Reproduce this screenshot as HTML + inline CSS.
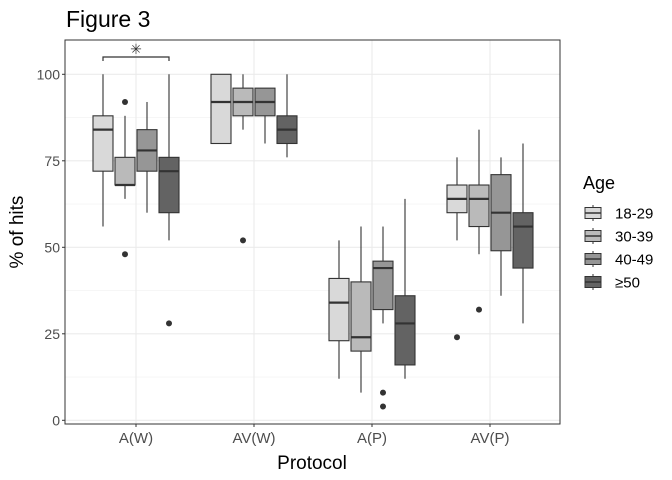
<!DOCTYPE html>
<html><head><meta charset="utf-8"><style>
body{margin:0;background:#fff}
svg{font-family:"Liberation Sans",sans-serif;display:block}
</style></head><body>
<svg id="c" width="672" height="480"></svg>
<script>
const categories=["A(W)","AV(W)","A(P)","AV(P)"];
const groups=["18-29","30-39","40-49","≥50"];
const fills=["#d9d9d9","#bababa","#969696","#636363"];
// [low, q1, median, q3, high] per category per group
const stats=[
 [[56,72,84,88,100],[64,68,68,76,88],[60,72,78,84,92],[52,60,72,76,100]],
 [[80,80,92,100,100],[84,88,92,96,100],[80,88,92,96,96],[76,80,84,88,100]],
 [[12,23,34,41,52],[8,20,24,40,56],[28,32,44,46,56],[12,16,28,36,64]],
 [[52,60,64,68,76],[48,56,64,68,84],[36,49,60,71,76],[28,44,56,60,80]]
];
const outliers=[
 [[],[92,48],[],[28]],
 [[],[52],[],[]],
 [[],[],[8,4],[]],
 [[24],[32],[],[]]
];
const yTicks=[0,25,50,75,100];
const NS="http://www.w3.org/2000/svg";
const svg=document.getElementById('c');
function el(t,a,p){const e=document.createElementNS(NS,t);for(const k in a)e.setAttribute(k,a[k]);(p||svg).appendChild(e);return e;}
const L=65,R=560,T=40,B=424;
const y=v=>420.3-3.46*v;
const x=i=>136+118*i;
const off=[-33,-11,11,33];
for(let v=-12.5;v<=112.5;v+=25){if(y(v)>T&&y(v)<B){const g=el('line',{x1:L,x2:R,y1:y(v),y2:y(v),stroke:'#f0f0f0','stroke-width':0.6});}}
yTicks.forEach(v=>{const g=el('line',{x1:L,x2:R,y1:y(v),y2:y(v),stroke:'#ebebeb','stroke-width':1.1});
 const t=el('text',{x:60,y:y(v)+5,'text-anchor':'end','font-size':14,fill:'#4d4d4d'});t.textContent=v;
 el('line',{x1:62,x2:65,y1:y(v),y2:y(v),stroke:'#333'});});
categories.forEach((c,i)=>{const g=el('line',{x1:x(i),x2:x(i),y1:T,y2:B,stroke:'#ebebeb','stroke-width':1.1});
 el('line',{x1:x(i),x2:x(i),y1:B,y2:B+3,stroke:'#333'});
 const t=el('text',{x:x(i),y:443,'text-anchor':'middle','font-size':15,fill:'#4d4d4d'});t.textContent=c;});
stats.forEach((cat,i)=>cat.forEach((s,j)=>{
 const cx=x(i)+off[j],w=20;
 const g=el('g',{});
 el('line',{x1:cx,x2:cx,y1:y(s[4]),y2:y(s[0]),stroke:'#333','stroke-width':1.1},g);
 el('rect',{x:cx-w/2,y:y(s[3]),width:w,height:y(s[1])-y(s[3]),fill:fills[j],stroke:'#333','stroke-width':1.1},g);
 el('line',{x1:cx-w/2,x2:cx+w/2,y1:y(s[2]),y2:y(s[2]),stroke:'#333','stroke-width':2.2},g);
 outliers[i][j].forEach(o=>{const d=el('circle',{cx:cx,cy:y(o),r:3,fill:'#333'},g);});
}));
el('rect',{x:L,y:T,width:R-L,height:B-T,fill:'none',stroke:'#333','stroke-width':1});
const br=el('path',{d:`M${x(0)-33} 61V57H${x(0)+33}V61`,fill:'none',stroke:'#333','stroke-width':1.2});
const st=el('text',{x:x(0),y:54,'text-anchor':'middle','font-size':14,fill:'#333'});st.textContent='✳';
let t=el('text',{x:66,y:27,'font-size':23,fill:'#000'});t.textContent='Figure 3';
t=el('text',{x:312,y:469,'text-anchor':'middle','font-size':19,fill:'#000'});t.textContent='Protocol';
t=el('text',{x:23,y:232,'text-anchor':'middle','font-size':19,fill:'#000',transform:'rotate(-90 23 232)'});t.textContent='% of hits';
t=el('text',{x:583,y:189,'font-size':18,fill:'#000'});t.textContent='Age';
groups.forEach((gname,j)=>{const cy=213+23*j;
 const g=el('g',{});
 el('line',{x1:593,x2:593,y1:cy-8,y2:cy+8,stroke:'#333'},g);
 el('rect',{x:585,y:cy-5.5,width:16,height:11,fill:fills[j],stroke:'#333','stroke-width':1},g);
 el('line',{x1:585,x2:601,y1:cy,y2:cy,stroke:'#333','stroke-width':1.5},g);
 const tt=el('text',{x:615,y:cy+5.5,'font-size':15,fill:'#000'},g);tt.textContent=gname;});
</script>
</body></html>
